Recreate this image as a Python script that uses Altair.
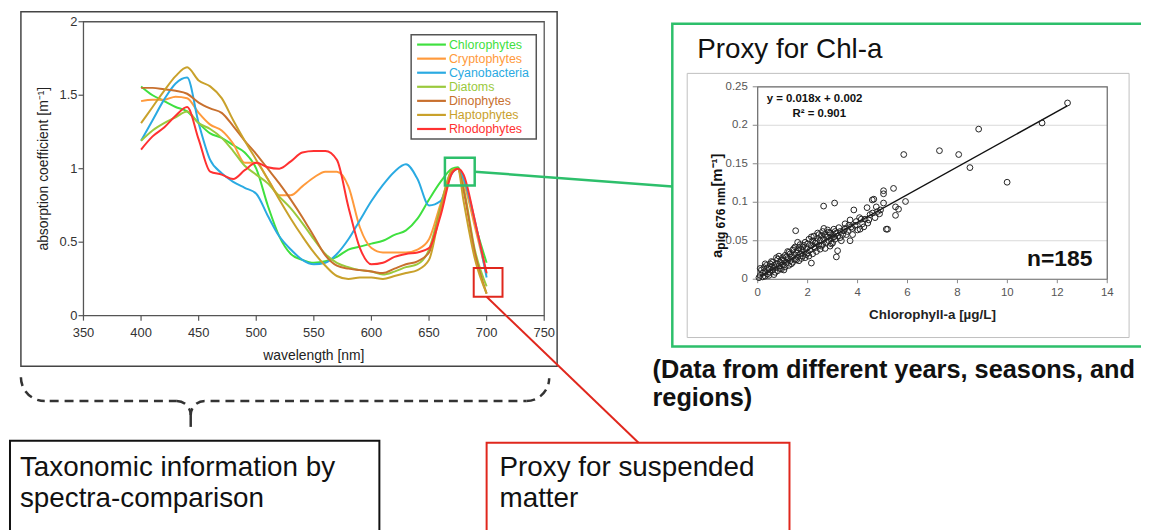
import math
import altair as alt
import pandas as pd

# ---------------- data ----------------
WAVELENGTH = [400, 410, 420, 430, 440, 450, 460, 470, 480, 490, 500, 510, 520, 530, 540, 550,
              560, 570, 580, 590, 600, 610, 620, 630, 640, 650, 660, 670, 675, 680, 690, 700]
SPECIES = ["Chlorophytes", "Cryptophytes", "Cyanobacteria", "Diatoms", "Dinophytes",
           "Haptophytes", "Rhodophytes"]
COLORS = ["#3fe03f", "#ff9a3c", "#2aaae2", "#9ac93c", "#c8702e", "#c9a12b", "#ff3131"]

CHLOROPHYTES = [1.56, 1.50, 1.46, 1.42, 1.39, 1.31, 1.24, 1.21, 1.16, 1.11, 1.00, 0.75, 0.54, 0.42, 0.38, 0.36,
                0.37, 0.40, 0.45, 0.47, 0.49, 0.51, 0.55, 0.58, 0.66, 0.79, 0.91, 1.00, 1.01, 0.93, 0.62, 0.36]
CRYPTOPHYTES = [1.46, 1.47, 1.47, 1.49, 1.48, 1.38, 1.30, 1.26, 1.17, 1.04, 1.04, 0.93, 0.82, 0.82, 0.88, 0.94,
                0.98, 0.98, 0.88, 0.60, 0.46, 0.43, 0.43, 0.43, 0.45, 0.52, 0.76, 0.98, 1.00, 0.91, 0.60, 0.28]
CYANOBACTERIA = [1.19, 1.33, 1.47, 1.58, 1.62, 1.31, 1.06, 0.97, 0.91, 0.87, 0.83, 0.68, 0.54, 0.45, 0.38, 0.35,
                 0.36, 0.42, 0.52, 0.65, 0.78, 0.89, 0.98, 1.03, 0.93, 0.75, 0.78, 0.97, 1.00, 0.93, 0.64, 0.26]
DIATOMS = [1.19, 1.26, 1.31, 1.35, 1.39, 1.31, 1.27, 1.21, 1.12, 1.02, 0.96, 0.90, 0.81, 0.73, 0.63, 0.52,
           0.42, 0.36, 0.33, 0.31, 0.30, 0.28, 0.30, 0.33, 0.35, 0.45, 0.74, 0.99, 1.00, 0.87, 0.44, 0.20]
DINOPHYTES = [1.55, 1.55, 1.54, 1.53, 1.51, 1.45, 1.41, 1.38, 1.29, 1.19, 1.10, 1.00, 0.90, 0.79, 0.67, 0.54,
              0.41, 0.34, 0.32, 0.31, 0.30, 0.29, 0.32, 0.35, 0.37, 0.43, 0.72, 0.98, 1.00, 0.85, 0.42, 0.15]
HAPTOPHYTES = [1.31, 1.42, 1.53, 1.63, 1.69, 1.60, 1.56, 1.48, 1.33, 1.19, 1.06, 0.93, 0.79, 0.66, 0.54, 0.43,
               0.34, 0.27, 0.25, 0.26, 0.26, 0.25, 0.27, 0.29, 0.31, 0.38, 0.72, 0.99, 1.00, 0.78, 0.38, 0.15]
RHODOPHYTES = [1.13, 1.22, 1.28, 1.36, 1.42, 1.20, 0.98, 0.96, 0.93, 0.99, 1.04, 1.01, 1.00, 1.05, 1.11, 1.12,
               1.12, 1.06, 0.74, 0.46, 0.35, 0.36, 0.40, 0.42, 0.43, 0.46, 0.68, 0.97, 1.00, 0.96, 0.64, 0.29]
SPECTRA = [CHLOROPHYTES, CRYPTOPHYTES, CYANOBACTERIA, DIATOMS, DINOPHYTES, HAPTOPHYTES, RHODOPHYTES]

SPEC_X_TICKS = [350, 400, 450, 500, 550, 600, 650, 700, 750]
SPEC_Y_TICKS = [0, 0.5, 1, 1.5, 2]

# scatter: Chlorophyll-a [ug/L] vs a_pig(676 nm) [1/m]
CHL = [0.05, 0.1, 0.15, 0.2, 0.25, 0.3, 0.3, 0.35, 0.4, 0.45, 0.5, 0.5, 0.55, 0.6, 0.6, 0.65, 0.7, 0.75, 0.8, 0.8,
       0.85, 0.9, 0.95, 1.0, 1.0,
       1.05, 1.1, 1.1, 1.15, 1.2, 1.2, 1.25, 1.3, 1.3, 1.35, 1.4, 1.4, 1.45, 1.5, 1.5, 1.55, 1.6, 1.6, 1.65, 1.7,
       1.7, 1.75, 1.8, 1.8, 1.85, 1.9, 1.9, 1.95, 2.0, 2.0,
       2.05, 2.1, 2.15, 2.15, 2.2, 2.2, 2.25, 2.3, 2.3, 2.35, 2.4, 2.4, 2.45, 2.5, 2.5, 2.55, 2.6, 2.6, 2.65, 2.7,
       2.7, 2.75, 2.8, 2.8, 2.85, 2.9, 2.9, 2.95, 3.0, 3.0,
       3.05, 3.1, 3.15, 3.15, 3.2, 3.2, 3.25, 3.3, 3.35, 3.4, 3.5, 3.5, 3.6, 3.7, 3.7, 3.75, 3.8, 3.85, 3.9, 4.0,
       4.08, 4.1, 4.2, 4.3, 4.38, 4.41, 4.5, 4.59, 4.65, 4.7, 4.8, 4.88, 4.92, 5.04, 5.04, 5.04,
       5.15, 5.2, 5.44, 5.52, 5.52, 5.64, 5.92, 5.85, 7.28, 8.05, 8.5, 8.85, 9.99, 11.39, 12.41,
       1.52, 2.64, 3.08,
       0.1, 0.2, 0.4, 0.45, 0.55, 0.7, 0.75, 0.9, 0.95, 1.05, 1.15, 1.25, 1.35, 1.45, 1.55, 1.65, 1.75, 1.85,
       1.95, 2.05, 2.15, 2.25, 2.35, 2.45, 2.55, 2.65, 2.75, 2.85, 2.95, 3.05, 3.1, 3.3, 3.45, 3.55, 3.65, 3.8,
       3.95, 4.15, 4.25, 4.45, 4.6, 4.75, 0.3, 0.65, 0.85, 1.6]
APIG = [0.002, 0.005, 0.012, 0.008, 0.015, 0.004, 0.010, 0.018, 0.007, 0.013, 0.020, 0.009, 0.016, 0.012, 0.022,
        0.006, 0.015, 0.020, 0.011, 0.026, 0.017, 0.022, 0.013, 0.019, 0.028,
        0.024, 0.016, 0.031, 0.021, 0.027, 0.036, 0.018, 0.024, 0.033, 0.029, 0.022, 0.038, 0.031, 0.026, 0.042,
        0.034, 0.029, 0.038, 0.024, 0.033, 0.045, 0.039, 0.030, 0.042, 0.036, 0.048, 0.028, 0.040, 0.034, 0.046,
        0.052, 0.038, 0.021, 0.044, 0.050, 0.033, 0.056, 0.041, 0.047, 0.036, 0.053, 0.060, 0.044, 0.039, 0.050,
        0.057, 0.045, 0.062, 0.052, 0.040, 0.058, 0.048, 0.055, 0.064, 0.050, 0.043, 0.060, 0.054, 0.047, 0.058,
        0.065, 0.052, 0.029, 0.060, 0.037, 0.056, 0.067, 0.062, 0.050, 0.058, 0.066, 0.072, 0.062, 0.050, 0.077,
        0.068, 0.058, 0.090, 0.070, 0.064,
        0.080, 0.065, 0.072, 0.078, 0.093, 0.073, 0.084, 0.103, 0.104, 0.080, 0.088, 0.085, 0.090, 0.099, 0.111,
        0.115,
        0.065, 0.065, 0.118, 0.094, 0.083, 0.091, 0.101, 0.162, 0.167, 0.162, 0.145, 0.195, 0.126, 0.203, 0.229,
        0.063, 0.095, 0.099,
        0.014, 0.003, 0.015, 0.005, 0.023, 0.009, 0.028, 0.014, 0.025, 0.012, 0.029, 0.035, 0.020, 0.040, 0.025,
        0.041, 0.027, 0.044, 0.032, 0.030, 0.055, 0.042, 0.049, 0.058, 0.043, 0.066, 0.055, 0.061, 0.046, 0.055,
        0.062, 0.054, 0.063, 0.058, 0.070, 0.066, 0.075, 0.078, 0.068, 0.077, 0.086, 0.094, 0.020, 0.018, 0.030,
        0.048]
FIT_SLOPE = 0.018
FIT_INTERCEPT = 0.002
FIT_X = [0.1, 12.4]
SC_X_TICKS = [0, 2, 4, 6, 8, 10, 12, 14]
SC_Y_TICKS = [0, 0.05, 0.1, 0.15, 0.2, 0.25]
SC_GRID = [0.05, 0.1, 0.15, 0.2]

# ---------------- layout (page pixels; canvas origin is 8px in) ----------------
W, H = 1141, 522
O = 8
FONT = "Liberation Sans"
GREEN = "#2dbf6b"
RED = "#e0271d"


def P(v):
    return v - O


ONE = pd.DataFrame({"k": [0]})


def tick_df(values):
    return pd.DataFrame({"v": values, "t": [f"{v:g}" for v in values]})


spec_df = pd.DataFrame(
    [{"species": s, "wl": w, "a": v} for s, vals in zip(SPECIES, SPECTRA) for w, v in zip(WAVELENGTH, vals)]
)
leg_df = pd.DataFrame({"species": SPECIES})
sc_df = pd.DataFrame({"chl": CHL, "apig": APIG})
fit_df = pd.DataFrame({"chl": FIT_X, "apig": [FIT_SLOPE * x + FIT_INTERCEPT for x in FIT_X]})
grid_df = pd.DataFrame({"g": SC_GRID})

color_enc = alt.Color("species:N", scale=alt.Scale(domain=SPECIES, range=COLORS), legend=None)

# ---------- spectra panel (axes drawn through the panel's own scales) ----------
SX0, SX1, SY0, SY1 = 84, 548, 316, 20
sx_scale = alt.Scale(domain=[350, 750], range=[P(SX0), P(SX1)], nice=False, zero=False)
sy_scale = alt.Scale(domain=[0, 2], range=[P(SY0), P(SY1)], nice=False, zero=True)
AX_COL = "#555"

spec_frame = alt.Chart(ONE).mark_rect(fill="white", fillOpacity=0, stroke=AX_COL, strokeWidth=1.3).encode(
    x=alt.X(datum=350, scale=sx_scale, axis=None), x2=alt.X2(datum=750),
    y=alt.Y(datum=0, scale=sy_scale, axis=None), y2=alt.Y2(datum=2),
)
spec_xticks = alt.Chart(tick_df(SPEC_X_TICKS)).mark_rule(color=AX_COL, strokeWidth=1.2).encode(
    x=alt.X("v:Q", scale=sx_scale, axis=None), y=alt.value(P(SY0)), y2=alt.value(P(SY0 + 5)))
spec_xlabels = alt.Chart(tick_df(SPEC_X_TICKS)).mark_text(
    align="center", baseline="middle", fontSize=13, font=FONT, color="#333").encode(
    x=alt.X("v:Q", scale=sx_scale, axis=None), y=alt.value(P(333)), text="t:N")
spec_yticks = alt.Chart(tick_df(SPEC_Y_TICKS)).mark_rule(color=AX_COL, strokeWidth=1.2).encode(
    y=alt.Y("v:Q", scale=sy_scale, axis=None), x=alt.value(P(SX0 - 5)), x2=alt.value(P(SX0)))
spec_ylabels = alt.Chart(tick_df(SPEC_Y_TICKS)).mark_text(
    align="right", baseline="middle", fontSize=13, font=FONT, color="#333").encode(
    y=alt.Y("v:Q", scale=sy_scale, axis=None), x=alt.value(P(SX0 - 6)), text="t:N")
spec_lines = alt.Chart(spec_df).mark_line(interpolate="monotone", strokeWidth=2).encode(
    x=alt.X("wl:Q", scale=sx_scale, axis=None),
    y=alt.Y("a:Q", scale=sy_scale, axis=None),
    color=color_enc,
)
spectra = alt.layer(spec_frame, spec_xticks, spec_xlabels, spec_yticks, spec_ylabels, spec_lines)

# ---------- manual legend for spectra ----------
leg_y = alt.Y("species:N", scale=alt.Scale(type="point", domain=SPECIES, range=[P(43), P(128)], padding=0),
              axis=None)
leg_lines = alt.Chart(leg_df).mark_rule(strokeWidth=2.2).encode(
    x=alt.value(P(420)), x2=alt.value(P(449)), y=leg_y, color=color_enc)
leg_text = alt.Chart(leg_df).mark_text(align="left", baseline="middle", fontSize=12.5, font=FONT).encode(
    x=alt.value(P(452)), y=leg_y, text="species:N", color=color_enc)
legend = alt.layer(leg_lines, leg_text)

# ---------- scatter panel ----------
CX0, CX1, CY0, CY1 = 763, 1115, 279.3, 85.5
cx_scale = alt.Scale(domain=[0, 14], range=[P(CX0), P(CX1)], nice=False, zero=True)
cy_scale = alt.Scale(domain=[0, 0.25], range=[P(CY0), P(CY1)], nice=False, zero=True)

sc_grid = alt.Chart(grid_df).mark_rule(color="#d9d9d9", strokeWidth=1).encode(
    y=alt.Y("g:Q", scale=cy_scale, axis=None),
    x=alt.X(datum=0, scale=cx_scale, axis=None), x2=alt.X2(datum=14))
sc_frame = alt.Chart(ONE).mark_rect(fill="white", fillOpacity=0, stroke="#666", strokeWidth=1.2).encode(
    x=alt.X(datum=0, scale=cx_scale, axis=None), x2=alt.X2(datum=14),
    y=alt.Y(datum=0, scale=cy_scale, axis=None), y2=alt.Y2(datum=0.25))
sc_xticks = alt.Chart(tick_df(SC_X_TICKS)).mark_rule(color="#888", strokeWidth=1).encode(
    x=alt.X("v:Q", scale=cx_scale, axis=None), y=alt.value(P(CY0)), y2=alt.value(P(CY0 + 4)))
sc_xlabels = alt.Chart(tick_df(SC_X_TICKS)).mark_text(
    align="center", baseline="middle", fontSize=11.5, font=FONT, color="#555").encode(
    x=alt.X("v:Q", scale=cx_scale, axis=None), y=alt.value(P(293.5)), text="t:N")
sc_yticks = alt.Chart(tick_df(SC_Y_TICKS)).mark_rule(color="#888", strokeWidth=1).encode(
    y=alt.Y("v:Q", scale=cy_scale, axis=None), x=alt.value(P(CX0 - 5)), x2=alt.value(P(CX0)))
sc_ylabels = alt.Chart(tick_df(SC_Y_TICKS)).mark_text(
    align="right", baseline="middle", fontSize=11.5, font=FONT, color="#555").encode(
    y=alt.Y("v:Q", scale=cy_scale, axis=None), x=alt.value(P(CX0 - 10)), text="t:N")
sc_points = alt.Chart(sc_df).mark_point(shape="circle", filled=False, color="#222", strokeWidth=1,
                                        size=34, opacity=1).encode(
    x=alt.X("chl:Q", scale=cx_scale, axis=None),
    y=alt.Y("apig:Q", scale=cy_scale, axis=None),
)
sc_fit = alt.Chart(fit_df).mark_line(color="#111", strokeWidth=1.4).encode(
    x=alt.X("chl:Q", scale=cx_scale, axis=None), y=alt.Y("apig:Q", scale=cy_scale, axis=None))
scatter = alt.layer(sc_grid, sc_frame, sc_xticks, sc_xlabels, sc_yticks, sc_ylabels, sc_fit, sc_points)


# ---------- annotation helpers ----------
def box(x1, y1, x2, y2, color, width):
    return alt.Chart(ONE).mark_rect(fill="white", fillOpacity=0, stroke=color, strokeWidth=width).encode(
        x=alt.value(P(x1)), x2=alt.value(P(x2)), y=alt.value(P(y1)), y2=alt.value(P(y2)))


def seg(x1, y1, x2, y2, color, width, dash=None):
    kw = dict(color=color, strokeWidth=width)
    if dash:
        kw["strokeDash"] = dash
    return alt.Chart(ONE).mark_rule(**kw).encode(
        x=alt.value(P(x1)), x2=alt.value(P(x2)), y=alt.value(P(y1)), y2=alt.value(P(y2)))


def label(x, y, text, size, weight="normal", align="left", angle=0, color="#111", baseline="middle"):
    return alt.Chart(ONE).mark_text(align=align, baseline=baseline, fontSize=size, fontWeight=weight,
                                    font=FONT, color=color, angle=angle).encode(
        x=alt.value(P(x)), y=alt.value(P(y)), text=alt.value(text))


def dashed_arc(cx, cy, r, a0, a1, width=2.5, dash=9.0, gap=6.0, color="#333"):
    """curved part of the brace, drawn as a series of short arc pieces (dash pattern)."""
    parts = []
    length = r * abs(a1 - a0)
    s = 0.0
    while s < length:
        e = min(s + dash, length)
        t0 = a0 + (a1 - a0) * s / length
        t1 = a0 + (a1 - a0) * e / length
        lo, hi = min(t0, t1), max(t0, t1)
        parts.append(alt.Chart(ONE).mark_arc(radius=r + width / 2, radius2=r - width / 2, theta=lo, theta2=hi,
                                             color=color).encode(x=alt.value(P(cx)), y=alt.value(P(cy))))
        s += dash + gap
    return parts


PI = math.pi
brace = []
brace += dashed_arc(45, 378, 24, 3 * PI / 2, PI)
brace.append(seg(50, 402, 178, 402, "#333", 2.5, [9, 6]))
brace += dashed_arc(178, 416, 14, 0, PI / 2)
brace.append(seg(192, 416, 192, 428, "#333", 2.5))
brace += dashed_arc(206, 416, 14, 2 * PI, 3 * PI / 2)
brace.append(seg(212, 402, 530, 402, "#333", 2.5, [9, 6]))
brace += dashed_arc(530, 379, 23, PI, PI / 2)

annotations = [
    box(21, 10, 561, 367, "#444", 1.5),                    # spectra panel frame
    box(414, 33, 540, 138, "#555", 1.5),                   # legend frame
    box(677, 22, 1160, 347, GREEN, 2.5),                   # Chl-a box
    box(692, 72, 1137, 338, "#bfbfbf", 1),                 # scatter chart frame
    box(10, 442, 382, 545, "#111", 2),                     # taxonomic box
    box(490, 444, 795, 545, RED, 2),                       # suspended matter box
]
links = [
    box(448, 157, 478, 185, GREEN, 2.5),
    seg(478, 171, 677, 186, GREEN, 2.5),
    box(477, 268, 506, 297, RED, 2),
    seg(490, 297, 643, 444, RED, 2),
]
texts = [
    label(316, 357, "wavelength [nm]", 14, color="#222", align="center"),
    label(44, 168, "absorption coefficient [m⁻¹]", 14, color="#222", align="center", angle=270),
    label(939, 315.5, "Chlorophyll-a [µg/L]", 13.5, "bold", align="center", color="#222"),
    label(702, 57, "Proxy for Chl-a", 28, baseline="alphabetic"),
    label(772, 98, "y = 0.018x + 0.002", 11.5, "bold"),
    label(798, 113, "R² = 0.901", 11.5, "bold"),
    label(1100, 259, "n=185", 23, "bold", align="right"),
    label(722, 258, "a", 15, "bold", angle=270),
    label(726.5, 249.5, "pig 676 nm", 12, "bold", angle=270),
    label(722, 186, " [m⁻¹]", 15, "bold", angle=270),
    label(657, 371, "(Data from different years, seasons, and", 25.5, "bold"),
    label(657, 399, "regions)", 25.5, "bold"),
    label(20, 469, "Taxonomic information by", 28),
    label(20, 501, "spectra-comparison", 28),
    label(503, 469, "Proxy for suspended", 28),
    label(503, 501, "matter", 28),
]

chart = alt.layer(
    *annotations, spectra, legend, scatter, *links, *brace, *texts
).resolve_scale(
    x="independent", y="independent"
).properties(
    width=W, height=H, autosize=alt.AutoSizeParams(type="none"), padding=0, background="white"
).configure(font=FONT).configure_view(stroke=None)

chart.save("out.html", embed_options={"renderer": "svg", "actions": False})
